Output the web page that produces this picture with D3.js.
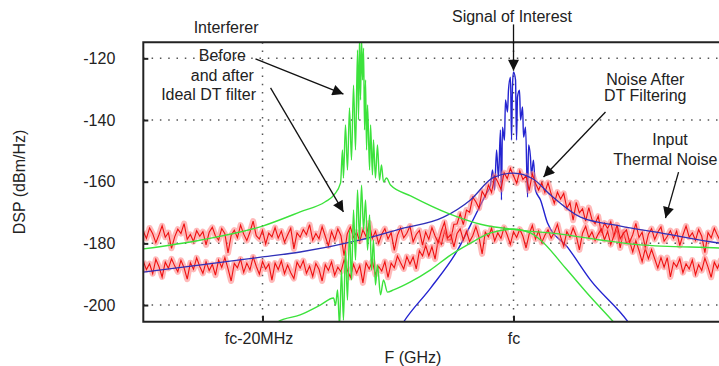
<!DOCTYPE html>
<html>
<head>
<meta charset="utf-8">
<script src="https://cdn.jsdelivr.net/npm/d3@7"></script>
<style>
  body { margin: 0; background: #fff; }
  svg { display: block; font-family: Arial, "Liberation Sans", sans-serif; }
</style>
</head>
<body>
<div id="chart"></div>
<script>
// frequency is an offset from fc in MHz, level is DSP in dBm/Hz
const yTicks = [-120, -140, -160, -180, -200];
const xTicks = [-20, 0];
const xTickLabels = ['fc-20MHz', 'fc'];

// interferer, before and after the ideal DT filter
const interfererBefore = [
  [-29.5, -181.8], [-24.9, -178.9], [-20.0, -174.4], [-17.0, -169.8], [-15.0, -166.5], [-14.3, -164.3], [-13.78, -160.4],
  [-13.63, -149.7], [-13.55, -158.8], [-13.39, -141.6], [-13.23, -156.2], [-13.07, -136.1], [-12.91, -153.0], [-12.75, -128.7],
  [-12.59, -149.7], [-12.43, -117.3], [-12.35, -140.0], [-12.27, -113.0], [-12.19, -133.5], [-12.11, -113.5], [-12.03, -127.0],
  [-11.95, -116.7], [-11.87, -143.2], [-11.79, -127.0], [-11.71, -149.7], [-11.63, -135.1], [-11.47, -156.2], [-11.39, -141.6],
  [-11.24, -157.8], [-11.16, -146.5], [-11.0, -158.8], [-10.84, -148.1], [-10.68, -159.5], [-10.52, -154.6], [-10.36, -160.1],
  [-10.12, -158.8], [-9.8, -161.1], [-8.2, -164.6], [-5.26, -170.2], [-2.63, -173.8], [0.56, -175.7], [3.75, -177.0],
  [6.93, -178.9], [10.12, -180.5], [16.4, -181.5], [20.0, -182.2]
];
const interfererAfter = [
  [-19.3, -208.5], [-18.8, -205.5], [-17.0, -203.2], [-15.4, -200.0], [-14.34, -197.7],
  [-14.18, -200.0], [-14.02, -195.1], [-13.86, -207.0], [-13.71, -188.6], [-13.55, -204.9], [-13.39, -182.2], [-13.23, -198.4],
  [-13.07, -175.7], [-12.91, -191.9], [-12.75, -169.2], [-12.59, -185.4], [-12.43, -162.7], [-12.27, -178.9], [-12.11, -161.1],
  [-11.95, -175.7], [-11.79, -165.9], [-11.63, -182.2], [-11.47, -170.8], [-11.31, -188.6], [-11.16, -178.9], [-11.0, -193.5],
  [-10.84, -187.0], [-10.6, -196.7], [-10.36, -191.9], [-10.04, -195.8],
  [-9.56, -195.1], [-8.21, -192.5], [-6.61, -188.6], [-5.02, -183.8], [-3.67, -180.5], [-1.83, -176.6], [0, -175.4],
  [1.35, -176.6], [2.15, -178.9], [4.14, -188.0], [6.14, -197.4], [7.97, -205.5], [8.53, -208.1]
];

// DT filter response (smooth blue)
const filterResponse = [
  [-29.5, -189.3], [-24.9, -187.0], [-20.0, -184.4], [-17.0, -182.8], [-12.2, -178.9], [-9.0, -175.3], [-5.58, -171.5],
  [-3.43, -165.9], [-1.59, -158.6], [0, -157.2], [1.59, -159.2], [2.95, -164.3], [5.34, -171.5], [8.53, -174.4],
  [11.71, -176.6], [16.41, -179.9], [20.0, -181.5]
];

// signal of interest
const signalOfInterest = [
  [-9.4, -209.8], [-8.76, -205.5], [-6.61, -194.5], [-4.46, -182.2], [-3.03, -170.8], [-2.23, -164.3],
  [-1.83, -161.1], [-1.67, -156.2], [-1.51, -162.7], [-1.35, -149.7], [-1.20, -158.8], [-1.04, -143.2], [-0.96, -165.9],
  [-0.88, -142.3], [-0.72, -146.5], [-0.64, -133.5], [-0.48, -137.4], [-0.40, -130.3], [-0.24, -126.1], [-0.16, -146.5],
  [-0.08, -128.7], [0, -124.4], [0.16, -127.0], [0.24, -146.5], [0.32, -132.5], [0.48, -130.3], [0.56, -140.0],
  [0.72, -135.8], [0.80, -145.5], [0.96, -142.3], [1.12, -165.0], [1.20, -148.1], [1.35, -152.0], [1.43, -157.8],
  [1.59, -153.0], [1.75, -162.7],
  [2.15, -165.9], [2.71, -173.4], [4.30, -181.2], [6.14, -191.9], [9.08, -205.2], [9.7, -208.8]
];

// noise traces, sampled every noiseStep MHz from noiseStart
const noiseStart = -29.5;
const noiseStep = 0.25;
const inputNoise = [
  -176.1, -178.4, -175.0, -176.9, -179.8, -177.2, -174.3, -178.0, -176.5, -181.6,
  -177.9, -175.4, -176.8, -173.6, -178.7, -177.1, -179.4, -175.9, -177.7, -176.2,
  -180.5, -176.4, -174.8, -177.6, -178.9, -175.2, -176.9, -183.1, -177.4, -175.7,
  -178.2, -174.1, -177.0, -179.1, -176.3, -172.8, -177.5, -178.6, -175.8, -180.2,
  -176.7, -177.9, -174.9, -178.3, -176.0, -179.6, -177.3, -175.1, -181.8, -176.6,
  -178.0, -175.5, -177.2, -173.9, -179.0, -176.8, -178.5, -174.6, -177.7, -180.8,
  -176.2, -178.8, -175.3, -177.5, -184.0, -176.9, -174.7, -178.1, -176.4, -179.3,
  -175.6, -177.8, -173.4, -178.4, -176.1, -180.0, -177.0, -175.2, -178.6, -176.5,
  -182.3, -177.4, -175.0, -178.2, -176.7, -174.4, -179.5, -177.1, -175.8, -180.6,
  -176.3, -178.7, -174.9, -177.6, -179.8, -176.0, -173.2, -178.3, -177.2, -181.1,
  -176.8, -175.3, -178.9, -176.1, -179.4, -177.5, -174.6, -178.0, -183.4, -176.4,
  -177.9, -175.1, -179.2, -176.6, -178.4, -174.8, -177.3, -180.3, -176.2, -178.1,
  -175.4, -177.7, -181.5, -176.9, -174.2, -178.6, -176.0, -179.7, -177.4, -175.6,
  -178.3, -176.5, -173.8, -177.9, -180.9, -176.2, -178.0, -175.0, -177.6, -182.1,
  -176.7, -174.5, -178.2, -176.3, -179.1, -177.0, -175.3, -178.8, -176.1, -180.4,
  -177.5, -174.0, -178.5, -176.8, -175.6, -179.6, -177.2, -173.5, -178.1, -176.4,
  -181.3, -177.0, -175.2, -178.7, -176.3, -174.7, -179.3, -177.8, -175.9, -178.4,
  -176.0, -180.7, -177.3, -174.4, -178.0, -176.6, -179.0, -175.5, -177.7, -183.0,
  -176.5, -178.2, -175.1, -177.4, -179.5, -176.2, -174.9
];
const filteredNoise = [
  -185.8, -188.5, -186.6, -189.8, -185.2, -187.6, -190.9, -186.1, -188.1, -185.0,
  -187.3, -189.2, -185.5, -187.9, -191.6, -186.3, -188.4, -184.7, -187.5, -189.7,
  -186.0, -188.8, -186.8, -190.3, -185.4, -187.8, -184.6, -188.2, -192.2, -186.5,
  -187.9, -185.1, -189.4, -186.4, -188.6, -184.4, -187.4, -190.0, -185.9, -188.3,
  -186.7, -191.9, -186.4, -188.5, -185.7, -189.8, -187.0, -189.5, -191.4, -186.1,
  -188.0, -185.6, -189.7, -187.4, -190.7, -186.5, -188.4, -192.2, -186.9, -188.8,
  -186.0, -190.3, -187.7, -189.2, -185.3, -188.6, -191.0, -186.8, -189.7, -187.2,
  -192.8, -186.3, -188.3, -185.8, -190.1, -187.5, -189.0, -185.9, -191.0, -186.4,
  -187.9, -184.1, -186.3, -188.3, -184.3, -186.7, -184.4, -188.3, -182.4, -184.1,
  -180.7, -184.1, -181.1, -185.1, -178.8, -180.3, -176.0, -178.9, -178.8, -173.8,
  -173.7, -170.4, -173.9, -169.2, -169.9, -165.0, -166.5, -168.6, -163.1, -164.9,
  -161.1, -163.5, -158.2, -160.1, -162.5, -157.1, -159.0, -155.7, -158.1, -160.5,
  -156.5, -159.3, -158.1, -162.9, -157.5, -160.5, -162.7, -160.3, -163.5, -160.3,
  -164.0, -167.0, -163.4, -165.6, -163.8, -168.6, -166.8, -172.5, -166.7, -170.1,
  -168.8, -172.8, -168.4, -172.3, -173.6, -171.2, -176.6, -173.4, -175.2, -173.0,
  -177.8, -175.7, -181.5, -176.3, -179.8, -179.3, -182.8, -179.1, -182.3, -185.9,
  -181.7, -185.0, -182.0, -185.0, -188.0, -184.6, -187.7, -184.6, -190.9, -186.2,
  -187.6, -185.0, -189.5, -186.6, -188.3, -185.4, -190.2, -186.9, -188.8, -184.8,
  -187.7, -191.0, -186.1, -188.1, -185.5, -189.3, -186.6
];

// annotation texts and arrows, anchored in data units
const noteTexts = [
  { text: 'Interferer', at: [-22.9, -111.8] },
  { text: 'Before', at: [-23.2, -120.9] },
  { text: 'and after', at: [-23.2, -127.4] },
  { text: 'Ideal DT filter', at: [-24.3, -133.5] },
  { text: 'Signal of Interest', at: [-0.12, -108.1] },
  { text: 'Noise After', at: [10.5, -128.7] },
  { text: 'DT Filtering', at: [10.5, -133.8] },
  { text: 'Input', at: [12.47, -148.1] },
  { text: 'Thermal Noise', at: [12.1, -154.6] }
];
const noteArrows = [
  { from: [-20.56, -120.2], to: [-13.55, -131.6] },
  { from: [-19.36, -129.6], to: [-13.55, -169.8] },
  { from: [0, -109.0], to: [0, -124.0] },
  { from: [7.33, -137.4], to: [2.39, -158.5] },
  { from: [13.15, -156.9], to: [12.11, -171.8] }
];

const width = 719;
const height = 366;
const plot = { left: 143.3, top: 42.3, right: 890, bottom: 321.7 };

const xScale = d3.scaleLinear().domain([-29.5, 30]).range([plot.left, plot.right]);
const yScale = d3.scaleLinear().domain([-205.4, -114.8]).range([plot.bottom, plot.top]);

const svg = d3.select('#chart')
  .append('svg')
    .attr('width', width)
    .attr('height', height);

svg.append('rect').attr('width', width).attr('height', height).attr('fill', '#fff');

const defs = svg.append('defs');
defs.append('clipPath')
    .attr('id', 'body-clip')
  .append('rect')
    .attr('x', plot.left)
    .attr('y', plot.top)
    .attr('width', plot.right - plot.left)
    .attr('height', plot.bottom - plot.top);

defs.append('marker')
    .attr('id', 'arrow')
    .attr('viewBox', '0 0 10 10')
    .attr('refX', 10)
    .attr('refY', 5)
    .attr('markerUnits', 'userSpaceOnUse')
    .attr('markerWidth', 15)
    .attr('markerHeight', 11)
    .attr('orient', 'auto')
  .append('path')
    .attr('d', 'M0,0L10,5L0,10z')
    .attr('fill', '#111');

// grid
const grid = svg.append('g').attr('class', 'grid');
grid.selectAll('.hgrid')
  .data(yTicks)
  .enter()
    .append('line')
      .attr('x1', plot.left)
      .attr('x2', plot.right)
      .attr('y1', d => yScale(d))
      .attr('y2', d => yScale(d));
grid.selectAll('.vgrid')
  .data(xTicks)
  .enter()
    .append('line')
      .attr('x1', d => xScale(d))
      .attr('x2', d => xScale(d))
      .attr('y1', plot.top)
      .attr('y2', plot.bottom);
grid.selectAll('line')
  .attr('stroke', '#555')
  .attr('stroke-width', 1.5)
  .attr('stroke-dasharray', '1.5,6.8');

// traces
const body = svg.append('g').attr('clip-path', 'url(#body-clip)');
const smooth = d3.line()
  .x(d => xScale(d[0]))
  .y(d => yScale(d[1]))
  .curve(d3.curveMonotoneX);
const jagged = d3.line()
  .x((d, i) => xScale(noiseStart + i * noiseStep))
  .y(d => yScale(d));

body.append('path')
  .datum(signalOfInterest)
  .attr('d', smooth)
  .attr('fill', 'none')
  .attr('stroke', '#2424d0')
  .attr('stroke-width', 1.4);

[filteredNoise, inputNoise].forEach(series => {
  body.append('path')
    .datum(series)
    .attr('d', jagged)
    .attr('fill', 'none')
    .attr('stroke', '#ff7f7f')
    .attr('stroke-opacity', 0.55)
    .attr('stroke-width', 6)
    .attr('stroke-linejoin', 'round');
  body.append('path')
    .datum(series)
    .attr('d', jagged)
    .attr('fill', 'none')
    .attr('stroke', '#ee1010')
    .attr('stroke-width', 1.1);
});

body.append('path')
  .datum(filterResponse)
  .attr('d', smooth)
  .attr('fill', 'none')
  .attr('stroke', '#3030b8')
  .attr('stroke-width', 1.3);

[interfererBefore, interfererAfter].forEach(series => {
  body.append('path')
    .datum(series)
    .attr('d', smooth)
    .attr('fill', 'none')
    .attr('stroke', '#3ce23c')
    .attr('stroke-width', 1.4);
});

// frame
svg.append('path')
  .attr('d', `M${width},${plot.top}H${plot.left}V${plot.bottom}H${width}`)
  .attr('fill', 'none')
  .attr('stroke', '#222')
  .attr('stroke-width', 2);

// axes
const yAxis = svg.append('g')
  .attr('transform', `translate(${plot.left},0)`)
  .call(d3.axisLeft(yScale).tickValues(yTicks).tickSize(-5).tickPadding(28).tickFormat(d => d));
const xAxis = svg.append('g')
  .attr('transform', `translate(0,${plot.bottom})`)
  .call(d3.axisBottom(xScale).tickValues(xTicks).tickSize(-6).tickPadding(11)
    .tickFormat((d, i) => xTickLabels[i]));
[yAxis, xAxis].forEach(axis => {
  axis.select('.domain').remove();
  axis.selectAll('.tick line').attr('stroke', '#222').attr('stroke-width', 2);
  axis.selectAll('.tick text')
    .attr('fill', '#222')
    .style('font-size', '16px')
    .style('font-family', 'Arial, "Liberation Sans", sans-serif');
});
xAxis.selectAll('.tick text').attr('dx', (d, i) => (i === 0 ? -4 : 0));

svg.append('text')
  .attr('transform', 'translate(25,182) rotate(-90)')
  .attr('text-anchor', 'middle')
  .attr('fill', '#222')
  .style('font-size', '16px')
  .text('DSP (dBm/Hz)');
svg.append('text')
  .attr('x', 413)
  .attr('y', 363)
  .attr('text-anchor', 'middle')
  .attr('fill', '#222')
  .style('font-size', '16px')
  .text('F (GHz)');

// annotations
const notes = svg.append('g').attr('class', 'notes');
notes.selectAll('line')
  .data(noteArrows)
  .enter()
    .append('line')
      .attr('x1', d => xScale(d.from[0]))
      .attr('y1', d => yScale(d.from[1]))
      .attr('x2', d => xScale(d.to[0]))
      .attr('y2', d => yScale(d.to[1]))
      .attr('stroke', '#111')
      .attr('stroke-width', 1.3)
      .attr('marker-end', 'url(#arrow)');
notes.selectAll('text')
  .data(noteTexts)
  .enter()
    .append('text')
      .attr('x', d => xScale(d.at[0]))
      .attr('y', d => yScale(d.at[1]))
      .attr('text-anchor', 'middle')
      .attr('fill', '#222')
      .style('font-size', '16px')
      .text(d => d.text);
</script>
</body>
</html>
